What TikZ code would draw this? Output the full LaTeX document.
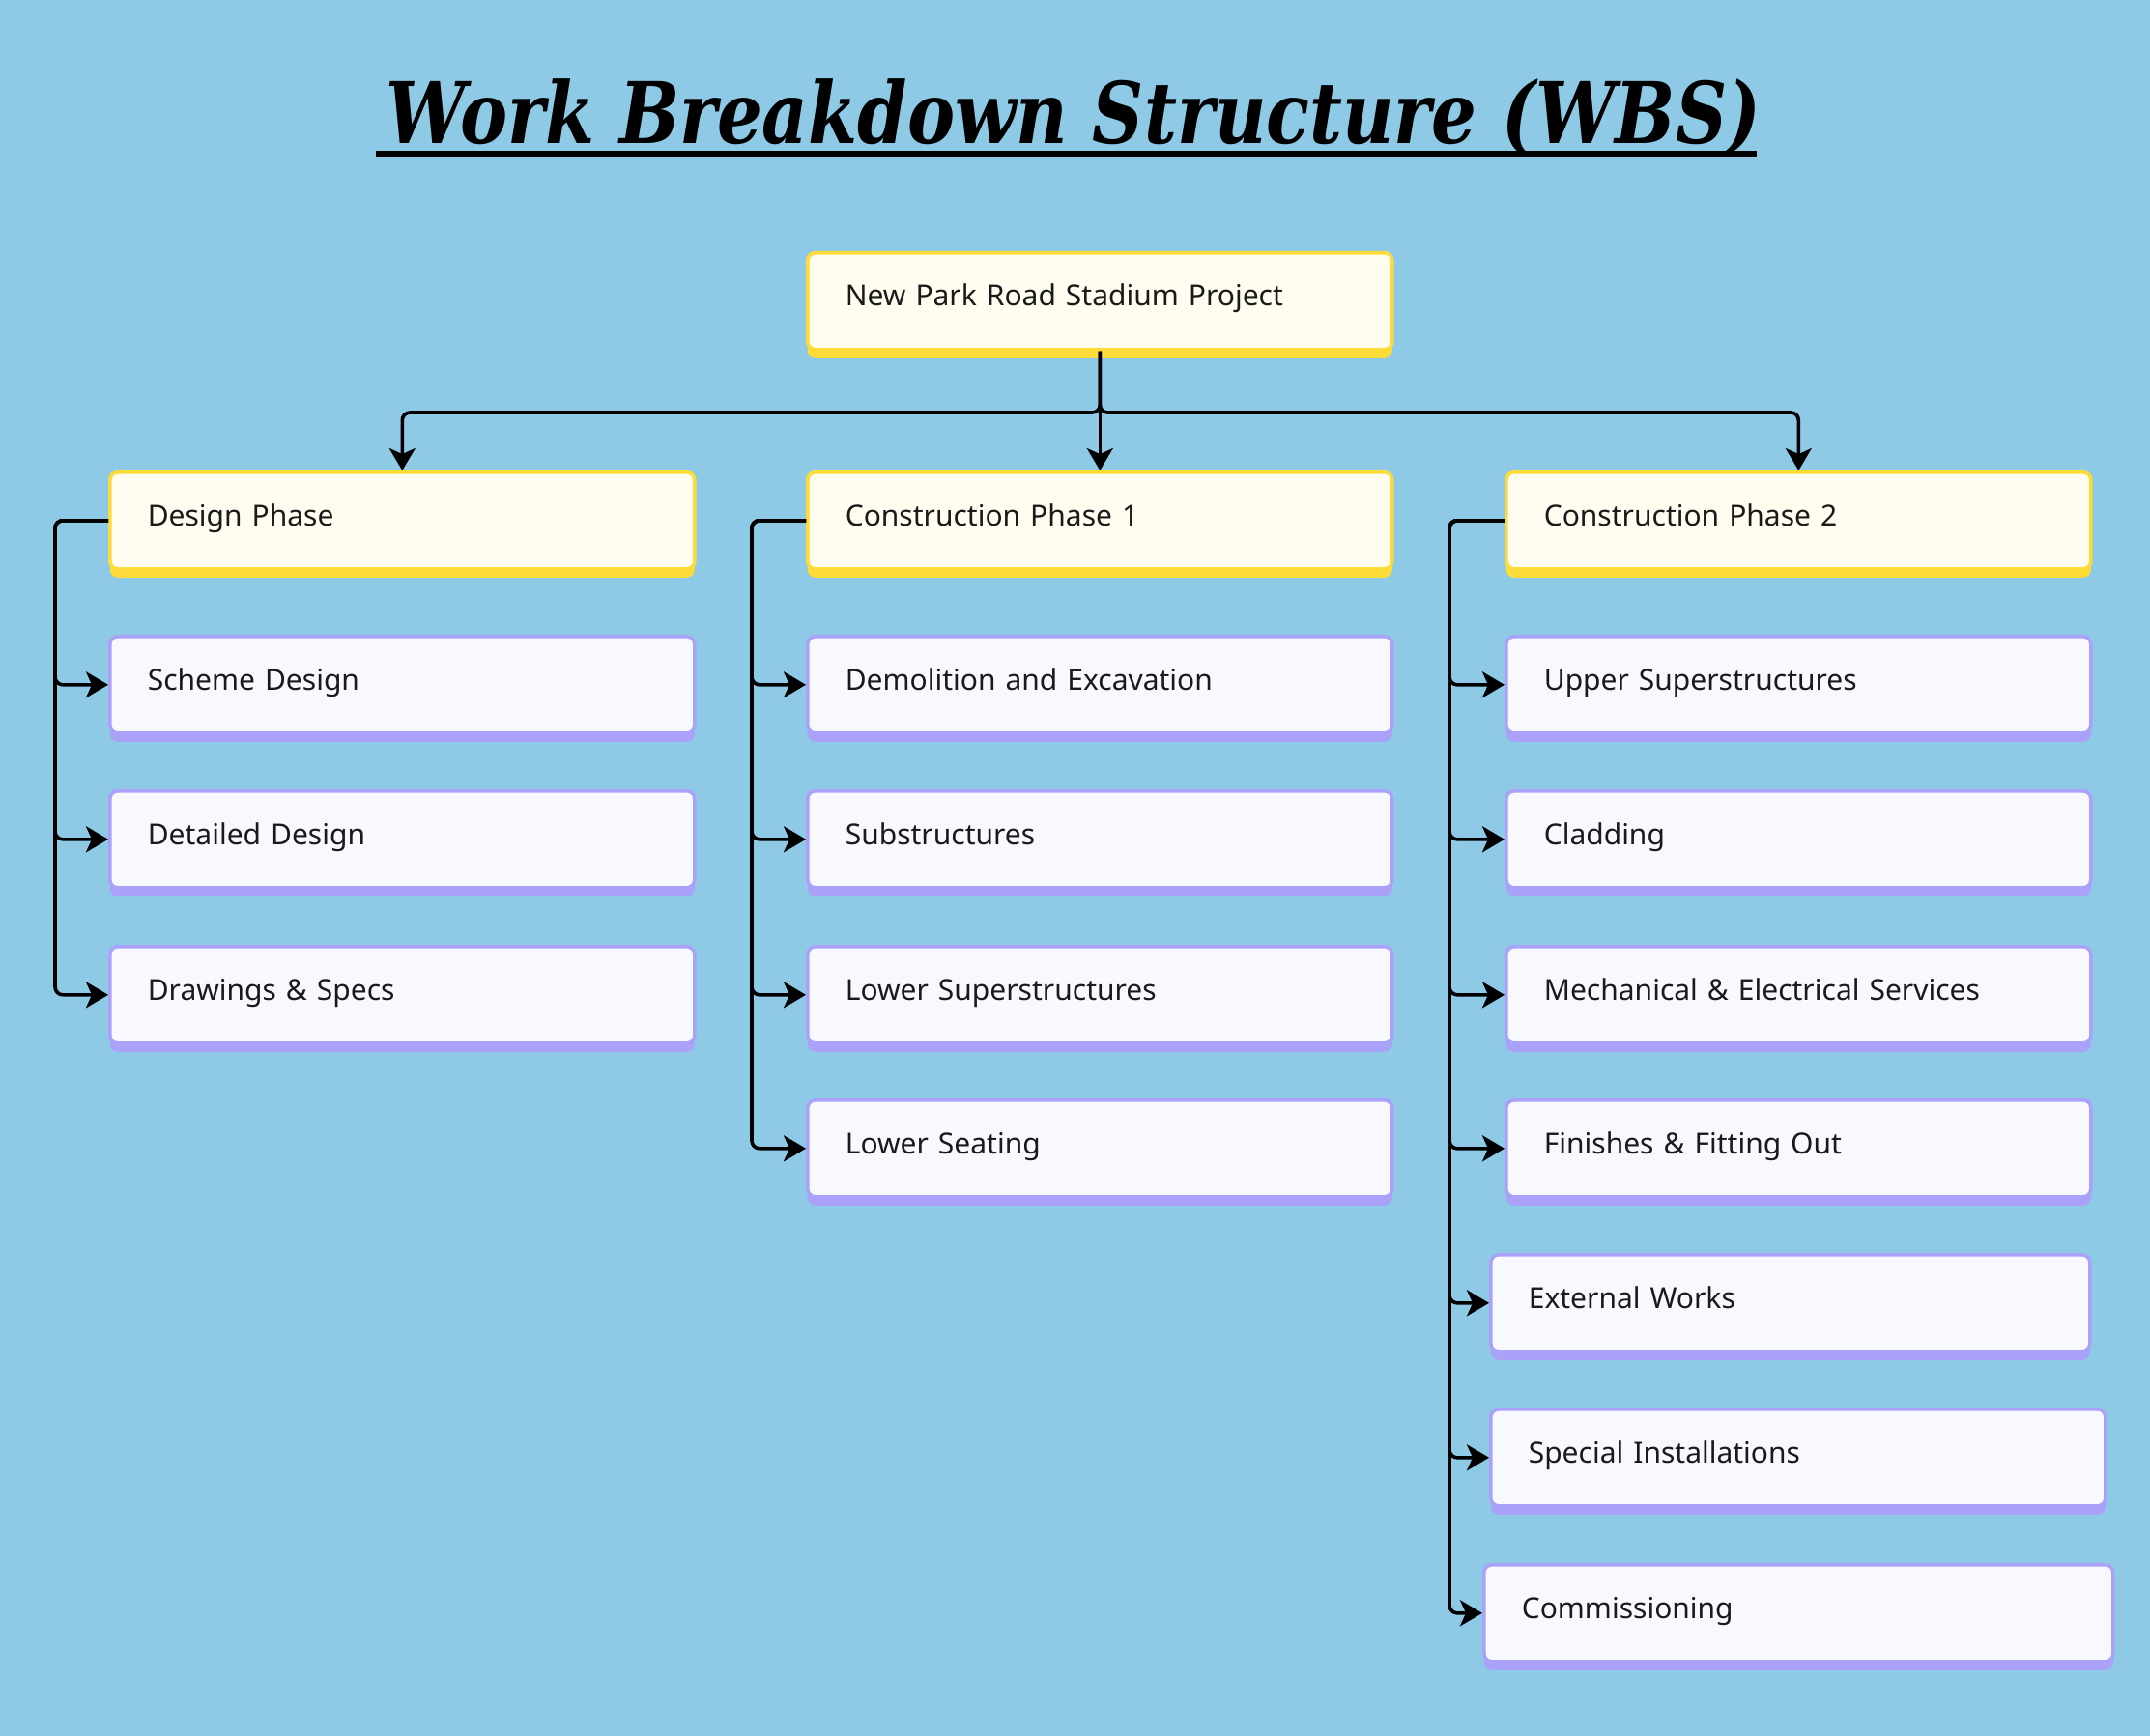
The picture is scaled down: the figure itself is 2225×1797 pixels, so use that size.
\documentclass[tikz,border=0pt]{standalone}
\usepackage{fontspec}
\setmainfont{Noto Sans}
\newfontfamily\wbstitlefont{DejaVu Serif}
\usepackage{tikz}
\usetikzlibrary{arrows.meta,shadows,calc}
\definecolor{wbsBg}{HTML}{8ECAE6}
\definecolor{wbsTopFill}{HTML}{FFFDF0}
\definecolor{wbsTopEdge}{HTML}{FDDC3A}
\definecolor{wbsSubFill}{HTML}{F8F8FF}
\definecolor{wbsSubEdge}{HTML}{AAA2F8}
\definecolor{wbsInk}{HTML}{1A1A1A}

\begin{document}
\begin{tikzpicture}[
    x=0.5pt, y=-0.5pt,
    box/.style     = {rectangle, rounded corners=4pt, line width=1.8pt, anchor=north west,
                      minimum height=50pt, inner xsep=19.5pt, inner ysep=0pt,
                      text height=10.8pt, text depth=5.6pt, text width=263.5pt, align=left,
                      font=\fontsize{15}{18}\selectfont, text=wbsInk},
    phase/.style   = {box, draw=wbsTopEdge, fill=wbsTopFill,
                      drop shadow={shadow xshift=0pt, shadow yshift=-4.5pt, opacity=1, fill=wbsTopEdge}},
    task/.style    = {box, draw=wbsSubEdge, fill=wbsSubFill,
                      drop shadow={shadow xshift=0pt, shadow yshift=-4.5pt, opacity=1, fill=wbsSubEdge}},
    link/.style    = {draw=black, line width=1.8pt, rounded corners=4pt,
                      -{Stealth[length=11.5pt, width=13.5pt, inset=3pt]}},
    titletxt/.style = {inner sep=0pt, anchor=base, text=black,
                      font=\wbstitlefont\bfseries\itshape\fontsize{44}{50}\selectfont}
  ]
  \fill[wbsBg] (0,0) rectangle (2225,1797);

  %% Title with rule underneath
  \node[titletxt] (title) at (1111,149) {\scalebox{0.837}[1]{Work Breakdown Structure (WBS)}};
  \draw[line width=2.6pt] ($(title.base west)+(-10,10)$) -- ($(title.base east)+(-5,10)$);

  %% Root and the three phases
  \node[phase] (root)   at (834,260)  {New Park Road Stadium Project};
  \node[phase] (design) at (112,487)  {Design Phase};
  \node[phase] (cp1)    at (834,487)  {Construction Phase 1};
  \node[phase] (cp2)    at (1557,487) {Construction Phase 2};

  \coordinate (bus) at (1136,427);
  \draw[link] (root.south) -- (root.south |- bus) -| (design.north);
  \draw[link] (root.south) -- (cp1.north);
  \draw[link] (root.south) -- (root.south |- bus) -| (cp2.north);

  %% Design phase tasks
  \foreach \n/\y/\lbl in {scheme/657/Scheme Design, detailed/817/Detailed Design,
                          drawings/978/Drawings \& Specs}{
    \node[task] (\n) at (112,\y) {\lbl};
    \draw[link] (design.west) -- ++(-55,0) |- (\n.west);
  }

  %% Construction phase 1 tasks
  \foreach \n/\y/\lbl in {demolition/657/Demolition and Excavation, substruct/817/Substructures,
                          lowersuper/978/Lower Superstructures, lowerseat/1137/Lower Seating}{
    \node[task] (\n) at (834,\y) {\lbl};
    \draw[link] (cp1.west) -- ++(-56,0) |- (\n.west);
  }

  %% Construction phase 2 tasks (last three boxes sit a little wider)
  \foreach \n/\x/\y/\w/\lbl in {uppersuper/1557/657/263.5pt/Upper Superstructures,
                                cladding/1557/817/263.5pt/Cladding,
                                services/1557/978/263.5pt/Mechanical \& Electrical Services,
                                finishes/1557/1137/263.5pt/Finishes \& Fitting Out,
                                external/1541/1297/271pt/External Works,
                                special/1541/1457/279pt/Special Installations,
                                commission/1534/1618/286.5pt/Commissioning}{
    \node[task, text width=\w] (\n) at (\x,\y) {\lbl};
    \draw[link] (cp2.west) -- ++(-57,0) |- (\n.west);
  }
\end{tikzpicture}
\end{document}
